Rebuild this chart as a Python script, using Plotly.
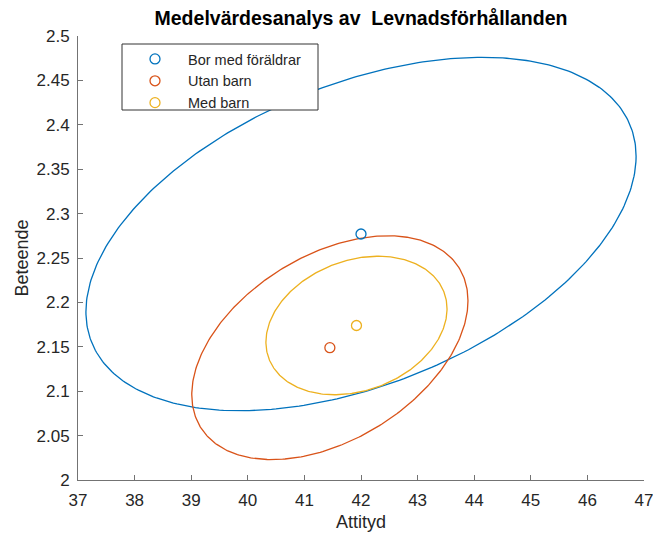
import numpy as np
import plotly.graph_objects as go

# ---- data ----
groups = ["Bor med föräldrar", "Utan barn", "Med barn"]
mean_attityd = [42.00, 41.45, 41.92]
mean_beteende = [2.277, 2.149, 2.174]
# ellipse parameters: half extent along each axis and correlation (tilt)
half_attityd = [4.86, 2.44, 1.60]
half_beteende = [0.199, 0.126, 0.078]
correlation = [0.44, 0.42, 0.24]
x_ticks = list(range(37, 48))
y_ticks = [2.0, 2.05, 2.1, 2.15, 2.2, 2.25, 2.3, 2.35, 2.4, 2.45, 2.5]
y_ticklabels = ["2", "2.05", "2.1", "2.15", "2.2", "2.25", "2.3",
                "2.35", "2.4", "2.45", "2.5"]

colors = ["#0072BD", "#D95319", "#EDB120"]
FONT = "Liberation Sans, Arial, Helvetica, sans-serif"

# plot area in pixels
L, R, T, B = 78, 644, 36, 480
W, H = 653, 535
def px_x(p):
    return (p - L) / (R - L)
def px_y(p):
    return (B - p) / (B - T)

fig = go.Figure()
t = np.linspace(0, 2 * np.pi, 361)
for i in range(len(groups)):
    cx, cy = mean_attityd[i], mean_beteende[i]
    sx, sy, r = half_attityd[i], half_beteende[i], correlation[i]
    ex = cx + sx * np.cos(t)
    ey = cy + sy * (r * np.cos(t) + np.sqrt(1 - r * r) * np.sin(t))
    fig.add_trace(go.Scatter(x=ex, y=ey, mode="lines", showlegend=False,
                             line=dict(color=colors[i], width=1.3),
                             hoverinfo="skip"))
for i in range(len(groups)):
    fig.add_trace(go.Scatter(x=[mean_attityd[i]], y=[mean_beteende[i]],
                             mode="markers", name=groups[i],
                             marker=dict(symbol="circle-open", size=10,
                                         color=colors[i],
                                         line=dict(width=1.3, color=colors[i]))))

axis_common = dict(showgrid=False, zeroline=False, showline=True,
                   linecolor="#737373", linewidth=1, ticks="inside",
                   ticklen=5, tickcolor="#737373", mirror=False,
                   ticklabeloverflow="allow", automargin=False,
                   tickfont=dict(family=FONT, size=17, color="#262626"))

fig.update_layout(
    width=W, height=H,
    margin=dict(l=L, r=W - R, t=T, b=H - B, autoexpand=False),
    paper_bgcolor="white", plot_bgcolor="white",
    title=dict(text="<b>Medelvärdesanalys av  Levnadsförhållanden</b>",
               x=(L + R) / 2 / W, xanchor="center",
               y=1 - 18 / H, yanchor="middle", yref="container",
               automargin=False,
               font=dict(family=FONT, size=19.5, color="black")),
    xaxis=dict(range=[37, 47], tickvals=x_ticks,
               ticklabelstandoff=5,
               title=dict(text="Attityd", standoff=5,
                          font=dict(family=FONT, size=18, color="#262626")),
               **axis_common),
    yaxis=dict(range=[2, 2.5], tickvals=y_ticks, ticktext=y_ticklabels,
               ticklabelstandoff=4,
               title=dict(text="Beteende", standoff=3,
                          font=dict(family=FONT, size=18, color="#262626")),
               **axis_common),
    legend=dict(x=px_x(122), y=px_y(43), xanchor="left",
                yanchor="top", bgcolor="rgba(0,0,0,0)",
                borderwidth=0, itemwidth=56,
                font=dict(family=FONT, size=14.5, color="#262626"),
                tracegroupgap=0),
    shapes=[dict(type="rect", xref="paper", yref="paper",
                 x0=px_x(122), x1=px_x(318), y0=px_y(110), y1=px_y(44),
                 fillcolor="white", line=dict(color="#333333", width=1),
                 layer="above")],
    showlegend=True,
)

fig.write_html("out.html")
